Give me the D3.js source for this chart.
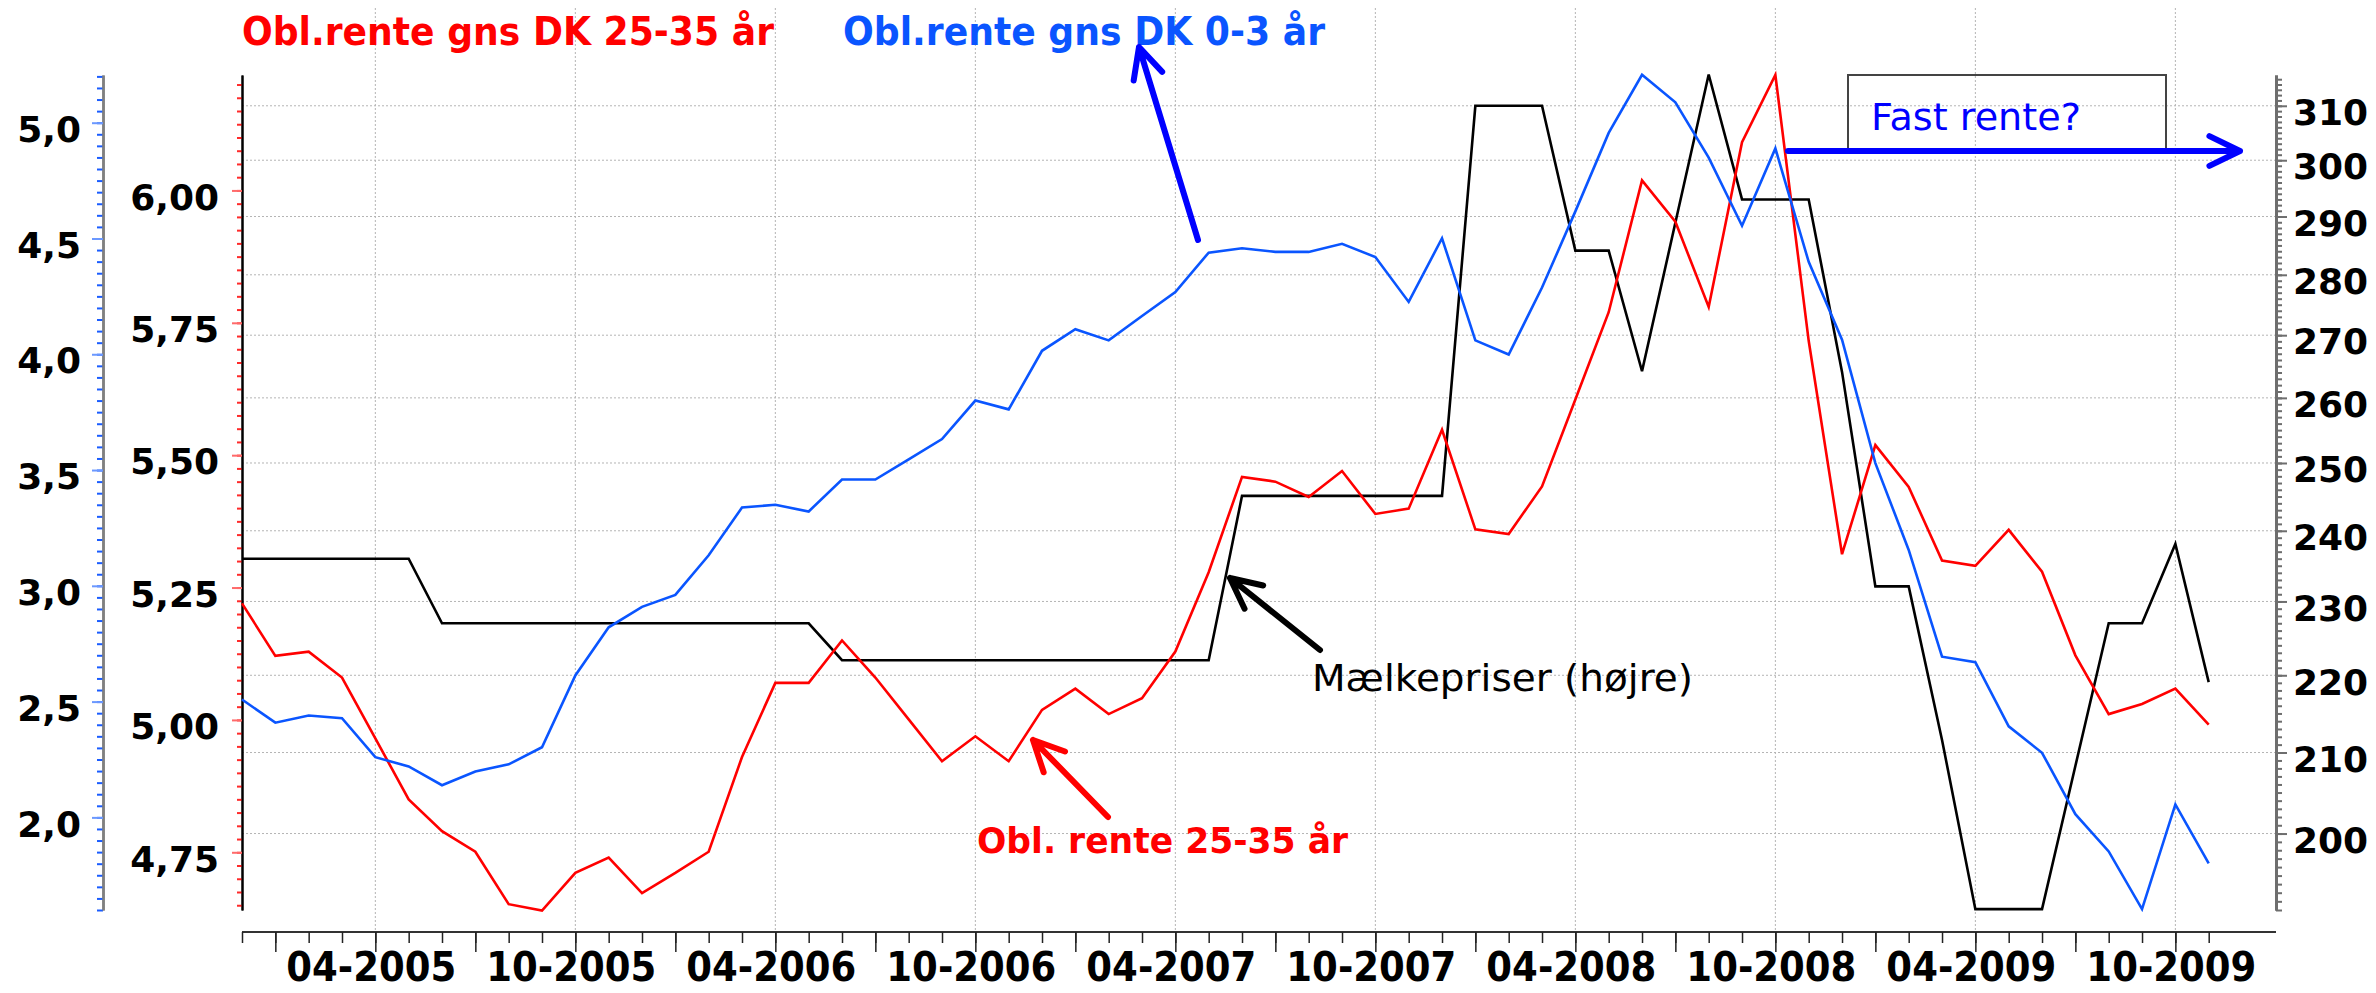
<!DOCTYPE html>
<html>
<head>
<meta charset="utf-8">
<script src="https://cdn.jsdelivr.net/npm/d3@7"></script>
<style>
  body { margin: 0; background: #fff; }
  svg { display: block; }
  text { font-family: "DejaVu Sans", Verdana, sans-serif; }
</style>
</head>
<body>
<div id="chart"></div>
<script>
// months Dec 2004 .. Nov 2009
var months = d3.timeMonth.range(new Date(2004, 11, 1), new Date(2009, 11, 1));

// Obl.rente gns DK 25-35 år (red, inner left axis)
var renteLang = [5.220, 5.121, 5.129, 5.080, 4.965, 4.850, 4.790, 4.751, 4.652, 4.640,
                 4.711, 4.740, 4.673, 4.711, 4.751, 4.930, 5.070, 5.070, 5.150, 5.080,
                 5.001, 4.922, 4.969, 4.922, 5.019, 5.059, 5.011, 5.041, 5.129, 5.279,
                 5.459, 5.450, 5.421, 5.470, 5.389, 5.399, 5.548, 5.360, 5.351, 5.441,
                 5.605, 5.770, 6.019, 5.941, 5.780, 6.091, 6.218, 5.716, 5.313, 5.519,
                 5.440, 5.301, 5.291, 5.359, 5.280, 5.122, 5.011, 5.030, 5.059, 4.991];

// Obl.rente gns DK 0-3 år (blue, outer left axis)
var renteKort = [2.509, 2.409, 2.440, 2.428, 2.260, 2.220, 2.139, 2.198, 2.229, 2.303,
                 2.613, 2.821, 2.909, 2.961, 3.132, 3.338, 3.350, 3.321, 3.459, 3.459,
                 3.546, 3.634, 3.800, 3.762, 4.015, 4.108, 4.060, 4.165, 4.269, 4.439,
                 4.458, 4.442, 4.442, 4.477, 4.420, 4.226, 4.501, 4.060, 3.999, 4.288,
                 4.617, 4.956, 5.207, 5.088, 4.849, 4.555, 4.889, 4.399, 4.063, 3.530,
                 3.155, 2.694, 2.670, 2.393, 2.279, 2.014, 1.853, 1.604, 2.056, 1.801];

// Mælkepriser (black, right log axis)
var maelk = [236.0, 236.0, 236.0, 236.0, 236.0, 236.0,
             227.0, 227.0, 227.0, 227.0, 227.0, 227.0, 227.0, 227.0, 227.0, 227.0, 227.0, 227.0,
             222.0, 222.0, 222.0, 222.0, 222.0, 222.0, 222.0, 222.0, 222.0, 222.0, 222.0, 222.0,
             245.1, 245.1, 245.1, 245.1, 245.1, 245.1, 245.1,
             310.0, 310.0, 310.0, 284.1, 284.1, 264.2, 288.9, 315.9,
             293.0, 293.0, 293.0, 264.1, 232.1, 232.1, 211.6,
             191.1, 191.1, 191.1, 208.3, 227.0, 227.0, 238.1, 219.1];

var xTickLabels = ["04-2005", "10-2005", "04-2006", "10-2006", "04-2007",
                   "10-2007", "04-2008", "10-2008", "04-2009", "10-2009"];
var blueTicks = [2.0, 2.5, 3.0, 3.5, 4.0, 4.5, 5.0];
var redTicks = [4.75, 5.00, 5.25, 5.50, 5.75, 6.00];
var milkTicks = [200, 210, 220, 230, 240, 250, 260, 270, 280, 290, 300, 310];

var width = 2376, height = 993;
var margin = {top: 75, bottom: 83, left: 242, right: 100};
var plotBottom = height - margin.bottom;  // 910
var axisRight = 2276, axisBlue = 103, xAxisY = 932;

var svg = d3.select("#chart").append("svg")
    .attr("width", width)
    .attr("height", height);

var idx = d3.range(months.length);
var x = d3.scalePoint().domain(idx).range([margin.left, 2208.7]);
var yRed = d3.scaleLinear().domain([4.641, 6.218]).range([plotBottom, margin.top]);
var yBlue = d3.scaleLinear().domain([1.6, 5.206]).range([plotBottom, margin.top]);
var yMilk = d3.scaleLog().domain([191.0, 315.8]).range([plotBottom, margin.top]);

var fmtMonth = d3.timeFormat("%m-%Y");
var labelIdx = xTickLabels.map(function(l) {
  return idx.find(function(i) { return fmtMonth(months[i]) === l; });
});

//Grid
var grid = svg.append("g").attr("stroke", "#b4b4b4").attr("stroke-width", 1)
    .attr("stroke-dasharray", "2,2");
grid.selectAll(".h").data(milkTicks).enter().append("line")
    .attr("x1", margin.left).attr("x2", axisRight)
    .attr("y1", function(d) { return yMilk(d); })
    .attr("y2", function(d) { return yMilk(d); });
grid.selectAll(".v").data(labelIdx).enter().append("line")
    .attr("x1", function(d) { return x(d); })
    .attr("x2", function(d) { return x(d); })
    .attr("y1", 8).attr("y2", xAxisY);

//Axes
function styleAxis(g, lineColor, tickColor, lineWidth) {
  g.select(".domain").attr("stroke", lineColor).attr("stroke-width", lineWidth);
  g.selectAll(".tick line").attr("stroke", tickColor).attr("stroke-width", 2);
  g.selectAll(".tick text").attr("fill", "#000")
      .style("font-size", "36px").style("font-weight", "bold")
      .attr("dy", "0.52em");
}

var numFmt = function(dec) {
  return function(d) { return d.toFixed(dec).replace(".", ","); };
};

// blue (outer left)
var blueMinor = d3.range(32, 105).map(function(k) { return k * 0.05; });
svg.append("g").attr("transform", "translate(" + axisBlue + ",0)")
    .call(d3.axisLeft(yBlue).tickValues(blueMinor).tickSize(6).tickSizeOuter(0).tickFormat(""))
    .call(function(g) { styleAxis(g, "#808080", "#1a5cff", 2.5); });
svg.append("g").attr("transform", "translate(" + axisBlue + ",0)")
    .call(d3.axisLeft(yBlue).tickValues(blueTicks).tickSize(11).tickPadding(11)
        .tickSizeOuter(0).tickFormat(numFmt(1)))
    .call(function(g) { styleAxis(g, "#808080", "#6b98ff", 2.5); });

// red (inner left)
var redMinor = d3.range(186, 249).map(function(k) { return k * 0.025; });
svg.append("g").attr("transform", "translate(" + margin.left + ",0)")
    .call(d3.axisLeft(yRed).tickValues(redMinor).tickSize(5).tickSizeOuter(0).tickFormat(""))
    .call(function(g) { styleAxis(g, "#000", "#ff2a2a", 2); });
svg.append("g").attr("transform", "translate(" + margin.left + ",0)")
    .call(d3.axisLeft(yRed).tickValues(redTicks).tickSize(10).tickPadding(13)
        .tickSizeOuter(0).tickFormat(numFmt(2)))
    .call(function(g) { styleAxis(g, "#000", "#ff6a6a", 2); });

// right (milk prices)
var milkMinor = d3.range(191, 316);
svg.append("g").attr("transform", "translate(" + axisRight + ",0)")
    .call(d3.axisRight(yMilk).tickValues(milkMinor).tickSize(6).tickSizeOuter(0).tickFormat(""))
    .call(function(g) { styleAxis(g, "#6e6e6e", "#6e6e6e", 3); });
svg.append("g").attr("transform", "translate(" + axisRight + ",0)")
    .call(d3.axisRight(yMilk).tickValues(milkTicks).tickSize(11).tickPadding(6)
        .tickSizeOuter(0).tickFormat(d3.format("d")))
    .call(function(g) { styleAxis(g, "#6e6e6e", "#6e6e6e", 3); });

// x axis
svg.append("line").attr("x1", margin.left).attr("x2", axisRight)
    .attr("y1", xAxisY).attr("y2", xAxisY)
    .attr("stroke", "#333").attr("stroke-width", 2);
var xg = svg.append("g").attr("transform", "translate(0," + xAxisY + ")");
xg.call(d3.axisBottom(x).tickValues(idx).tickSize(11).tickFormat(""));
xg.append("g").call(d3.axisBottom(x)
    .tickValues(idx.filter(function(i) { return months[i].getMonth() % 3 === 0; }))
    .tickSize(20).tickFormat(""));
xg.selectAll(".domain").remove();
xg.selectAll(".tick line").attr("stroke", "#222").attr("stroke-width", 1.5);

svg.selectAll(".xlabel").data(labelIdx).enter().append("text")
    .attr("x", function(d) { return x(d) - 4; })
    .attr("y", 981)
    .attr("text-anchor", "middle")
    .attr("textLength", 170)
    .attr("lengthAdjust", "spacingAndGlyphs")
    .style("font-size", "41px").style("font-weight", "bold")
    .text(function(d, i) { return xTickLabels[i]; });

//Lines
function lineFor(y) {
  return d3.line().x(function(d, i) { return x(i); }).y(function(d) { return y(d); });
}
svg.append("path").datum(maelk).attr("fill", "none").attr("stroke", "#000")
    .attr("stroke-width", 2.6).attr("d", lineFor(yMilk));
svg.append("path").datum(renteLang).attr("fill", "none").attr("stroke", "#ff0000")
    .attr("stroke-width", 2.6).attr("d", lineFor(yRed));
svg.append("path").datum(renteKort).attr("fill", "none").attr("stroke", "#0a55ff")
    .attr("stroke-width", 2.6).attr("d", lineFor(yBlue));

//Titles
svg.append("text").attr("x", 242).attr("y", 45)
    .attr("textLength", 532).attr("lengthAdjust", "spacingAndGlyphs")
    .attr("fill", "#ff0000").style("font-size", "39px").style("font-weight", "bold")
    .text("Obl.rente gns DK 25-35 år");
svg.append("text").attr("x", 843).attr("y", 45)
    .attr("textLength", 482).attr("lengthAdjust", "spacingAndGlyphs")
    .attr("fill", "#0a55ff").style("font-size", "39px").style("font-weight", "bold")
    .text("Obl.rente gns DK 0-3 år");

//Annotations
function arrow(x1, y1, x2, y2, color) {
  var a = Math.atan2(y1 - y2, x1 - x2), len = 34, sp = 26 * Math.PI / 180;
  var p1 = [x2 + len * Math.cos(a + sp), y2 + len * Math.sin(a + sp)];
  var p2 = [x2 + len * Math.cos(a - sp), y2 + len * Math.sin(a - sp)];
  svg.append("path")
      .attr("d", "M" + x1 + "," + y1 + "L" + x2 + "," + y2 +
                 "M" + p1 + "L" + x2 + "," + y2 + "L" + p2)
      .attr("fill", "none").attr("stroke", color).attr("stroke-width", 6)
      .attr("stroke-linecap", "round").attr("stroke-linejoin", "round");
}

svg.append("rect").attr("x", 1848).attr("y", 75).attr("width", 318).attr("height", 77)
    .attr("fill", "none").attr("stroke", "#444").attr("stroke-width", 2);
svg.append("text").attr("x", 1871).attr("y", 130)
    .attr("textLength", 210).attr("lengthAdjust", "spacingAndGlyphs")
    .attr("fill", "#0000ff").style("font-size", "38px")
    .text("Fast rente?");
arrow(1788, 151, 2240, 151, "#0000ff");

arrow(1198, 240, 1139, 47, "#0000ff");
arrow(1320, 650, 1230, 578, "#000");
arrow(1108, 817, 1033, 740, "#ff0000");

svg.append("text").attr("x", 1312).attr("y", 691)
    .attr("textLength", 381).attr("lengthAdjust", "spacingAndGlyphs")
    .attr("fill", "#000").style("font-size", "38px")
    .text("Mælkepriser (højre)");
svg.append("text").attr("x", 977).attr("y", 853)
    .attr("textLength", 371).attr("lengthAdjust", "spacingAndGlyphs")
    .attr("fill", "#ff0000").style("font-size", "35px").style("font-weight", "bold")
    .text("Obl. rente 25-35 år");
</script>
</body>
</html>
